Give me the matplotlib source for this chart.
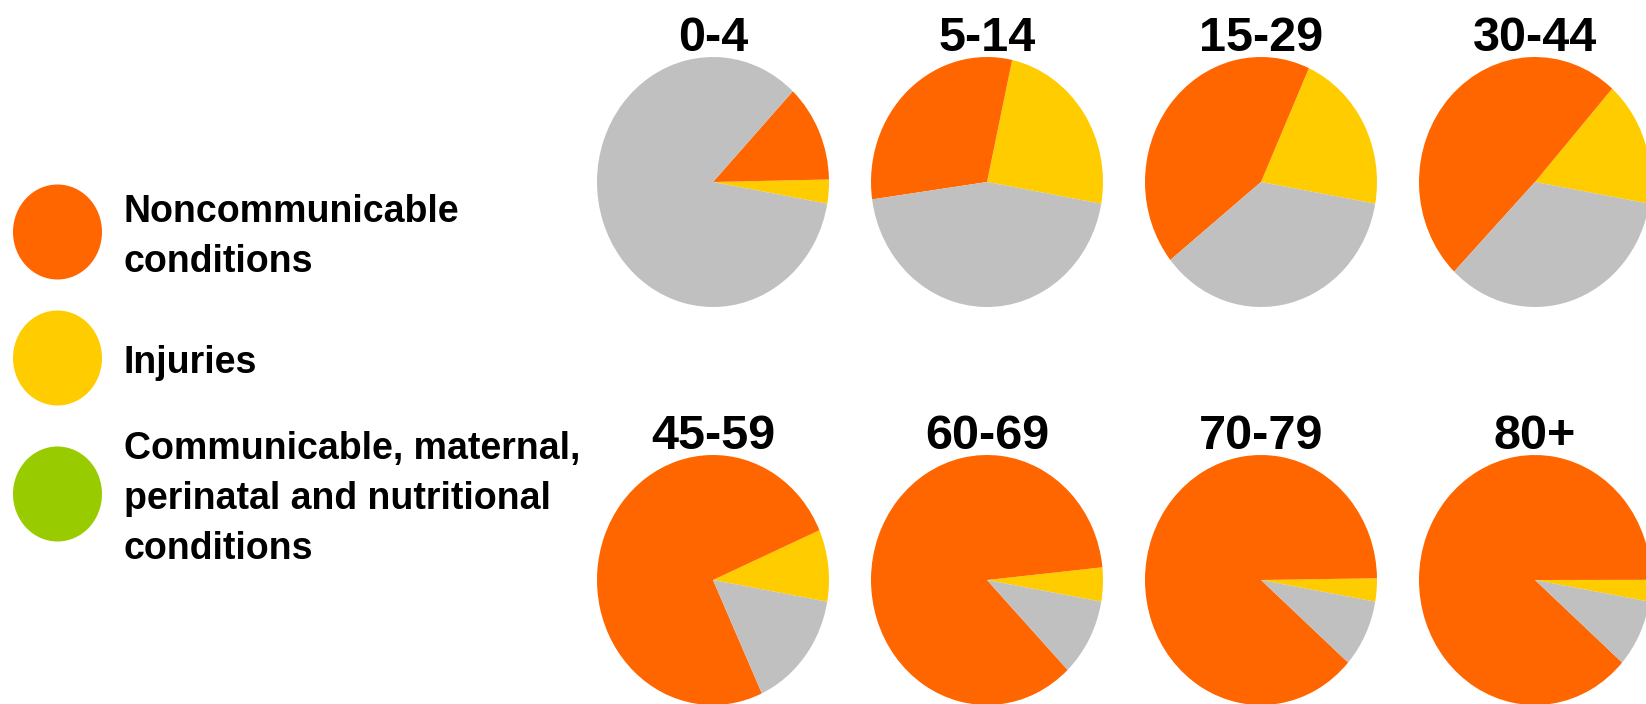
import matplotlib
matplotlib.use("Agg")
import matplotlib.pyplot as plt
from matplotlib.patches import Ellipse

# deaths by cause, share (%) per age group
age_groups = ["0-4", "5-14", "15-29", "30-44", "45-59", "60-69", "70-79", "80+"]
noncomm = [12.6, 30.7, 42.5, 49.3, 75.4, 85.6, 88.3, 88.5]
injuries = [3.1, 24.3, 21.0, 16.2, 9.3, 4.4, 3.0, 2.8]
communicable = [84.3, 45.0, 36.5, 34.5, 15.3, 10.0, 8.7, 8.7]

legend_labels = ["Noncommunicable\nconditions", "Injuries",
                 "Communicable, maternal,\nperinatal and nutritional\nconditions"]
legend_colors = ["#FF6600", "#FFCC00", "#99CC00"]

c_orange = "#FF6600"
c_yellow = "#FFCC00"
c_grey = "#C0C0C0"

plt.rcParams["font.family"] = ["Liberation Sans", "DejaVu Sans"]
plt.rcParams["font.weight"] = "bold"

W, H = 1646, 704
fig = plt.figure(figsize=(W / 100, H / 100), dpi=100)

# pie grid (pixels)
x0, dx = 713, 274
row_y = [182, 580]
rx, ry = 116, 125

for i, name in enumerate(age_groups):
    cx = x0 + dx * (i % 4)
    cy = row_y[i // 4]
    ax = fig.add_axes([(cx - rx) / W, 1 - (cy + ry) / H, 2 * rx / W, 2 * ry / H])
    ax.pie([injuries[i], noncomm[i], communicable[i]],
           colors=[c_yellow, c_orange, c_grey],
           startangle=-10, counterclock=True,
           wedgeprops=dict(linewidth=0))
    ax.set_aspect("auto")
    ax.set_xlim(-1, 1)
    ax.set_ylim(-1, 1)
    ax.text(0.5, 1 + 6 / (2 * ry), name, transform=ax.transAxes,
            ha="center", va="baseline", fontsize=35, fontweight="bold")

# legend
lax = fig.add_axes([0, 0, 1, 1])
lax.set_xlim(0, W)
lax.set_ylim(H, 0)
lax.axis("off")
leg_y = [232, 358, 494]
for lab, col, y in zip(legend_labels, legend_colors, leg_y):
    lax.add_patch(Ellipse((57.5, y), 89, 95, color=col, lw=0))
    lax.text(124, y + 5, lab, ha="left", va="center", fontsize=27,
             fontweight="bold", linespacing=1.5)

fig.savefig("out.png", dpi=100)
